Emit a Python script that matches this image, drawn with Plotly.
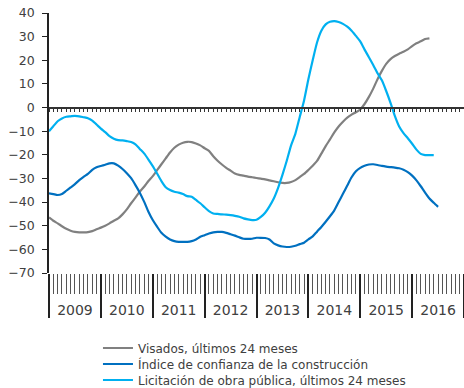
import plotly.graph_objects as go

# Monthly series, Jan 2009 onwards (index 0 = Jan 2009)
visados = [
    -46.5, -47.9, -49.0, -50.2, -51.3, -52.1, -52.6, -52.8, -52.8, -52.7, -52.3, -51.5,
    -50.8, -50.0, -49.0, -47.9, -46.9, -45.2, -43.1, -40.5, -38.1, -35.6, -33.5, -31.1,
    -29.0, -26.5, -24.0, -21.5, -19.0, -17.0, -15.7, -14.9, -14.5, -14.6, -15.2, -16.0,
    -17.2, -18.3, -20.6, -22.5, -24.1, -25.5, -26.7, -27.9, -28.5, -28.8, -29.2, -29.5,
    -29.8, -30.1, -30.4, -30.8, -31.2, -31.6, -31.9, -31.9, -31.5, -30.7, -29.4, -28.1,
    -26.4, -24.6, -22.6, -19.5, -16.3, -13.5, -10.5, -8.0, -6.0, -4.3, -3.0, -2.0,
    -0.8, 1.5, 4.5, 8.0, 12.0, 15.5, 18.5, 20.5, 21.8, 22.8, 23.6, 24.6,
    26.0, 27.2, 28.0, 29.0, 29.3,
]

confianza = [
    -36.3, -36.6, -37.0, -36.6, -35.2, -33.8, -32.4, -30.7, -29.3, -28.1, -26.4, -25.3,
    -24.7, -24.2, -23.6, -23.6, -24.6, -26.0, -27.8, -29.9, -32.8, -36.0, -39.8, -44.1,
    -47.6, -50.4, -53.0, -54.6, -55.8, -56.5, -56.8, -56.8, -56.8, -56.5, -55.8, -54.7,
    -54.0, -53.3, -52.8, -52.6, -52.6, -53.0, -53.6, -54.2, -54.9, -55.5, -55.6, -55.5,
    -55.1, -55.1, -55.2, -55.8, -57.5, -58.3, -58.8, -59.0, -58.9, -58.5, -57.8, -57.2,
    -55.8, -54.5, -52.5, -50.5, -48.3, -46.0, -43.5, -40.0, -36.5, -33.0, -29.5, -27.0,
    -25.5, -24.6, -24.1, -24.0, -24.3, -24.7, -25.0, -25.2, -25.4, -25.7, -26.3, -27.3,
    -28.8, -30.8, -33.3, -36.0, -38.5, -40.3, -42.0,
]

licitacion = [
    -10.0, -7.9, -5.8, -4.6, -3.9, -3.7, -3.5, -3.7, -4.1, -4.5, -5.5, -7.2,
    -8.9, -10.4, -12.1, -13.2, -13.8, -13.9, -14.2, -14.6, -15.6, -17.5, -19.4, -22.0,
    -24.8, -27.9, -31.1, -33.7, -34.9, -35.6, -36.0, -36.6, -37.5, -37.7, -39.1, -40.5,
    -42.2, -43.8, -44.8, -45.0, -45.2, -45.3, -45.5, -45.8, -46.2, -46.9, -47.3, -47.6,
    -47.5, -46.3, -44.5, -41.8, -38.5, -34.0, -28.5, -22.5, -16.0, -11.0, -4.0, 3.0,
    12.0, 20.0, 27.5, 32.5, 35.2, 36.3, 36.6, 36.2, 35.4, 34.2, 32.5, 30.3,
    28.0, 24.5, 21.3, 18.0, 14.5, 11.5, 7.0, 2.0, -3.5, -8.0, -10.8, -13.0,
    -15.3, -17.8, -19.6, -20.1, -20.1, -20.1,
]

years = ["2009", "2010", "2011", "2012", "2013", "2014", "2015", "2016"]
y_ticks = list(range(-70, 41, 10))

series = [
    ("Visados, últimos 24 meses", visados, "#808080", "legend"),
    ("Índice de confianza de la construcción", confianza, "#0070C0", "legend2"),
    ("Licitación de obra pública, últimos 24 meses", licitacion, "#00B0F0", "legend3"),
]

n_months = 12 * len(years)
month_ticks = list(range(0, n_months + 1))
year_edges = list(range(0, n_months + 1, 12))
year_mids = [12 * i + 6 for i in range(len(years))]

W, H = 464, 388

fig = go.Figure()
for name, vals, color, leg in series:
    fig.add_trace(go.Scatter(
        x=list(range(len(vals))), y=vals, name=name, mode="lines",
        line=dict(color=color, width=2.2, shape="spline", smoothing=0.6),
        legend=leg, hoverinfo="skip",
    ))

# empty traces so the overlay axes get their own subplots
for ax in ["x2", "x3", "x4"]:
    fig.add_trace(go.Scatter(x=[], y=[], xaxis=ax, yaxis="y",
                             showlegend=False, hoverinfo="skip"))

x_range = [0, n_months]
tick_font = dict(family="DejaVu Sans", size=12.5, color="#404040")

fig.update_layout(
    width=W, height=H,
    margin=dict(l=49, r=0, t=13, b=115, autoexpand=False),
    paper_bgcolor="white", plot_bgcolor="white",
    showlegend=True,
    # monthly tick row below the plot
    xaxis=dict(range=x_range, showgrid=False, zeroline=False, showline=False,
               tickmode="array", tickvals=month_ticks, ticks="outside",
               ticklen=20, tickwidth=1, tickcolor="#555555",
               showticklabels=False, automargin=False),
    # year separators
    xaxis2=dict(range=x_range, overlaying="x", anchor="y", showgrid=False,
                zeroline=False, showline=False, tickmode="array",
                tickvals=year_edges, ticks="outside", ticklen=44,
                tickwidth=1.5, tickcolor="#222222", showticklabels=False,
                automargin=False),
    # year labels
    xaxis3=dict(range=x_range, overlaying="x", anchor="y", showgrid=False,
                zeroline=False, showline=False, tickmode="array",
                tickvals=year_mids, ticktext=years, ticks="outside",
                ticklen=24, tickcolor="rgba(0,0,0,0)",
                tickfont=dict(family="DejaVu Sans", size=14, color="#404040"),
                automargin=False),
    # axis line at zero with small monthly ticks
    xaxis4=dict(range=x_range, overlaying="x", anchor="free",
                position=70 / 110, showgrid=False, zeroline=False,
                showline=True, linecolor="#333333", linewidth=2,
                tickmode="array", tickvals=month_ticks, ticks="outside",
                ticklen=3, tickwidth=1, tickcolor="#333333",
                showticklabels=False, automargin=False),
    yaxis=dict(range=[-70, 40], tickmode="array", tickvals=y_ticks,
               showgrid=False, zeroline=False, showline=True,
               linecolor="#222222", linewidth=1.5, ticks="outside",
               ticklen=5, tickwidth=1, tickcolor="#222222",
               tickfont=tick_font, ticklabelstandoff=5, automargin=False),
)

leg_common = dict(xanchor="left", yanchor="middle", yref="container",
                  bgcolor="rgba(0,0,0,0)", borderwidth=0, itemwidth=30,
                  font=dict(family="DejaVu Sans", size=12, color="#404040"))
fig.update_layout(
    legend=dict(x=0.118, y=1 - 348 / H, **leg_common),
    legend2=dict(x=0.118, y=1 - 364 / H, **leg_common),
    legend3=dict(x=0.118, y=1 - 380 / H, **leg_common),
)

fig.write_html("out.html")
